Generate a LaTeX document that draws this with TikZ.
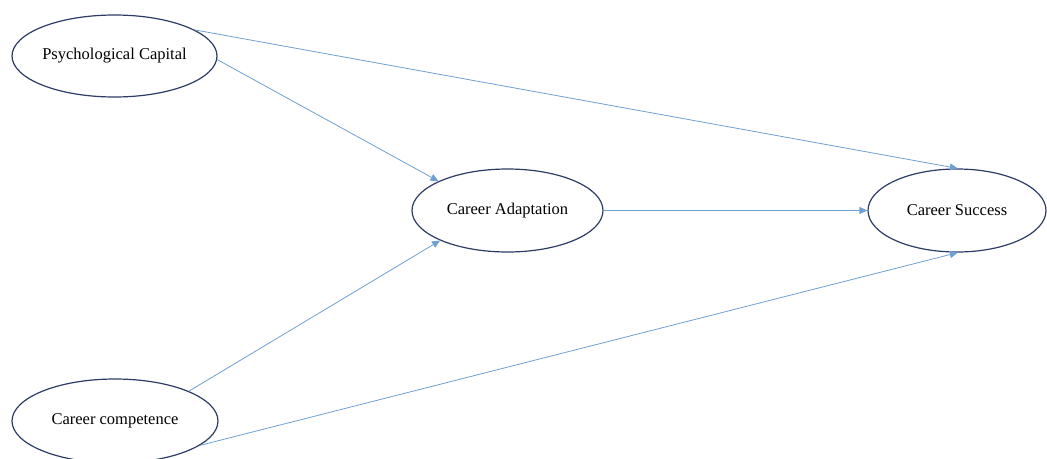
\documentclass[tikz,border=0pt]{standalone}
\usepackage{fontspec}
\setmainfont{Liberation Serif}
\usetikzlibrary{arrows.meta,shapes.geometric}
\definecolor{rimblue}{RGB}{45,60,100}
\definecolor{pathblue}{RGB}{110,160,210}
\tikzset{
  construct/.style={ellipse, draw=rimblue, line width=1.2pt, fill=white,
    inner sep=0pt, font=\fontsize{16.5}{18}\selectfont},
  path/.style={draw=pathblue, line width=0.8pt,
    -{Triangle[length=8pt,width=7pt]}}
}
\begin{document}
\begin{tikzpicture}[x=1pt,y=-1pt]
\useasboundingbox (0,0) rectangle (1047,458);
\node[construct, minimum width=205pt, minimum height=82pt] (psycap) at (114.5,56) {Psychological Capital};
\node[construct, minimum width=191pt, minimum height=83pt] (adapt) at (507.5,210.5) {Career Adaptation};
\node[construct, minimum width=178pt, minimum height=83pt] (success) at (957,210.5) {Career Success};
\node[construct, minimum width=206pt, minimum height=84pt] (compet) at (115,421) {Career competence};
\draw[path] (psycap.18) -- (success.89);
\draw[path] (psycap.-2) -- (adapt.157);
\draw[path] (adapt) -- (success);
\draw[path] (compet.22) -- (adapt.204);
\draw[path] (compet.-16) -- (success.271);
\end{tikzpicture}
\end{document}
